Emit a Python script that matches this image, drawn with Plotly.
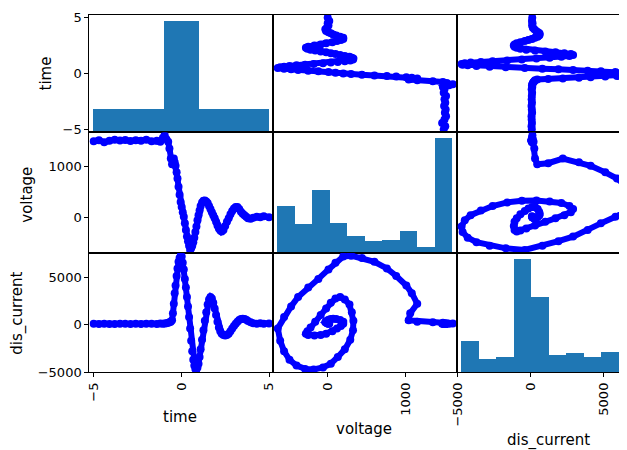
import numpy as np
import plotly.graph_objects as go

columns = ["time", "voltage", "dis_current"]

time = [-5.0, -4.7, -4.4, -4.1, -3.8, -3.5, -3.2, -2.9, -2.6, -2.3, -2.0, -1.7, -1.4, -1.2,
        -1.05, -0.95, -0.85, -0.75, -0.68, -0.6, -0.53, -0.48, -0.43, -0.38, -0.33, -0.27,
        -0.22, -0.16, -0.1, -0.04, 0.02, 0.08, 0.14, 0.2, 0.26, 0.32, 0.38, 0.44, 0.5, 0.56,
        0.62, 0.68, 0.74, 0.8, 0.86, 0.92, 0.98, 1.04, 1.1, 1.18, 1.26, 1.34, 1.42, 1.5, 1.58,
        1.66, 1.74, 1.82, 1.9, 1.98, 2.06, 2.14, 2.22, 2.3, 2.4, 2.5, 2.6, 2.7, 2.8, 2.9, 3.0,
        3.1, 3.2, 3.3, 3.4, 3.5, 3.6, 3.7, 3.8, 3.95, 4.1, 4.3, 4.5, 4.7, 5.0]
voltage = [1490, 1510, 1470, 1500, 1520, 1505, 1515, 1495, 1510, 1500, 1520, 1490, 1500, 1480,
           1560, 1607, 1530, 1480, 1350, 1150, 1040, 1060, 1150, 1080, 1010, 880,
           760, 600, 440, 300, 200, 100, 10, -120, -250, -380, -470, -560, -641, -610,
           -560, -490, -400, -290, -180, -60, 40, 130, 220, 290, 325, 330, 310, 280, 220,
           160, 100, 40, -20, -90, -160, -220, -260, -280, -250, -170, -90, -20, 60, 120, 170,
           200, 200, 160, 110, 70, 40, 10, -20, -30, -10, 10, 0, 20, 0]
dis_current = [80, 60, 90, 70, 60, 100, 80, 60, 90, 70, 80, 100, 70, 110,
               90, 120, 150, 200, 250, 300, 450, 1200, 2200, 3300, 4100, 5100,
               5900, 6600, 7000, 7243, 7150, 6500, 5800, 4800, 3900, 2900, 1900, 800, -400, -1700,
               -2800, -3700, -4300, -4650, -4720, -4500, -4100, -3400, -2600, -1600, -600, 400, 1300, 2100, 2650,
               2900, 2750, 2300, 1700, 1000, 300, -300, -700, -950, -1100, -1150, -1100, -950, -700, -400, -150,
               100, 300, 480, 580, 620, 600, 500, 380, 250, 150, 100, 130, 90, 110]

time_hist_counts = [50, 50, 50, 50, 240, 240, 50, 50, 50, 50]
voltage_hist_counts = [117, 72, 158, 75, 41, 28, 32, 54, 13, 290]
current_hist_counts = [75, 32, 37, 268, 179, 41, 45, 37, 49, 71]

time_ticks = [-5, 0, 5]
voltage_ticks = [0, 1000]
current_ticks = [-5000, 0, 5000]

data = {"time": time, "voltage": voltage, "dis_current": dis_current}
hists = {"time": time_hist_counts, "voltage": voltage_hist_counts, "dis_current": current_hist_counts}
ticks = {"time": time_ticks, "voltage": voltage_ticks, "dis_current": current_ticks}

# page body has an 8px default margin; the figure is sized to fill the rest of the window
OFF = 8
WIN_W, WIN_H = 627, 450
W, H = WIN_W - OFF, WIN_H - OFF
col_px = [(89.3, 273.4), (273.4, 457.2), (457.2, 641.0)]
row_px = [(14.8, 132.4), (132.4, 252.8), (252.8, 372.4)]

def px_x(p):
    return (p - OFF) / W

def px_y(p):
    return 1 - (p - OFF) / H

bounds = {}
for name in columns:
    arr = np.asarray(data[name], dtype=float)
    lo, hi = arr.min(), arr.max()
    ext = (hi - lo) * 0.025
    bounds[name] = (lo - ext, hi + ext, lo, hi)

def fmt(v):
    s = str(int(v))
    return s.replace("-", "\u2212")

TICKFONT = dict(family="DejaVu Sans", size=13, color="black")
fig = go.Figure()
layout = {}
for r, yname in enumerate(columns):
    for c, xname in enumerate(columns):
        k = r * 3 + c + 1
        sfx = "" if k == 1 else str(k)
        x0, x1 = col_px[c]
        vx1 = min(x1, WIN_W)
        xlo, xhi, _, _ = bounds[xname]
        xr = [xlo, xlo + (xhi - xlo) * (vx1 - x0) / (x1 - x0)]
        y0, y1 = row_px[r]
        xa = dict(domain=[px_x(x0), min(1.0, px_x(vx1))], range=xr, anchor="y" + sfx,
                  automargin=False, showline=True, mirror=True, linecolor="black", linewidth=1,
                  showgrid=False, zeroline=False, tickfont=TICKFONT)
        if r == 2:
            xa.update(tickvals=ticks[xname], ticktext=[fmt(v) for v in ticks[xname]],
                      ticks="outside", ticklen=4, tickcolor="black", tickangle=-90,
                      showticklabels=True)
        else:
            xa.update(showticklabels=False, ticks="")
        ya = dict(domain=[px_y(y1), px_y(y0)], anchor="x" + sfx, automargin=False,
                  showline=True, mirror=(c < 2), linecolor="black", linewidth=1,
                  showgrid=False, zeroline=False, tickfont=TICKFONT)
        if r == c:
            counts = hists[xname]
            _, _, dlo, dhi = bounds[xname]
            edges = np.linspace(dlo, dhi, len(counts) + 1)
            centers = (edges[:-1] + edges[1:]) / 2
            width = edges[1] - edges[0]
            fig.add_trace(go.Bar(x=centers, y=counts, width=width,
                                 marker=dict(color="#1f77b4", line=dict(width=0)),
                                 xaxis="x" + sfx, yaxis="y" + sfx, showlegend=False))
            ymax = max(counts) * 1.05
            ya.update(range=[0, ymax])
            if c == 0:
                ylo, yhi, _, _ = bounds[yname]
                locs = np.array(ticks[yname], dtype=float)
                adj = (locs - ylo) / (yhi - ylo) * ymax
                ya.update(tickvals=list(adj), ticktext=[fmt(v) for v in locs],
                          ticks="outside", ticklen=4, tickcolor="black", showticklabels=True)
            else:
                ya.update(showticklabels=False, ticks="")
        else:
            fig.add_trace(go.Scatter(x=data[xname], y=data[yname], mode="lines+markers",
                                     line=dict(color="#0000ff", width=6),
                                     marker=dict(color="#0000ff", size=8),
                                     xaxis="x" + sfx, yaxis="y" + sfx, showlegend=False))
            ylo, yhi, _, _ = bounds[yname]
            ya.update(range=[ylo, yhi])
            if c == 0:
                ya.update(tickvals=ticks[yname], ticktext=[fmt(v) for v in ticks[yname]],
                          ticks="outside", ticklen=4, tickcolor="black", showticklabels=True)
            else:
                ya.update(showticklabels=False, ticks="")
        layout["xaxis" + sfx] = xa
        layout["yaxis" + sfx] = ya

TITLEFONT = dict(family="DejaVu Sans", size=15, color="black")
annots = []
xt_pos = [(180, 416.7), (364, 428.5), (548, 440.5)]
yt_pos = [(45, 73.5), (26.7, 195), (16.7, 313)]
for name, (px, py) in zip(columns, xt_pos):
    annots.append(dict(text=name, x=px_x(px), y=px_y(py), xref="paper", yref="paper",
                       xanchor="center", yanchor="middle", showarrow=False, font=TITLEFONT))
for name, (px, py) in zip(columns, yt_pos):
    annots.append(dict(text=name, x=px_x(px), y=px_y(py), xref="paper", yref="paper",
                       xanchor="center", yanchor="middle", showarrow=False, textangle=-90,
                       font=TITLEFONT))

fig.update_layout(width=W, height=H, margin=dict(l=0, r=0, t=0, b=0),
                  paper_bgcolor="white", plot_bgcolor="white", bargap=0,
                  annotations=annots, **layout)
fig.write_html("out.html")
